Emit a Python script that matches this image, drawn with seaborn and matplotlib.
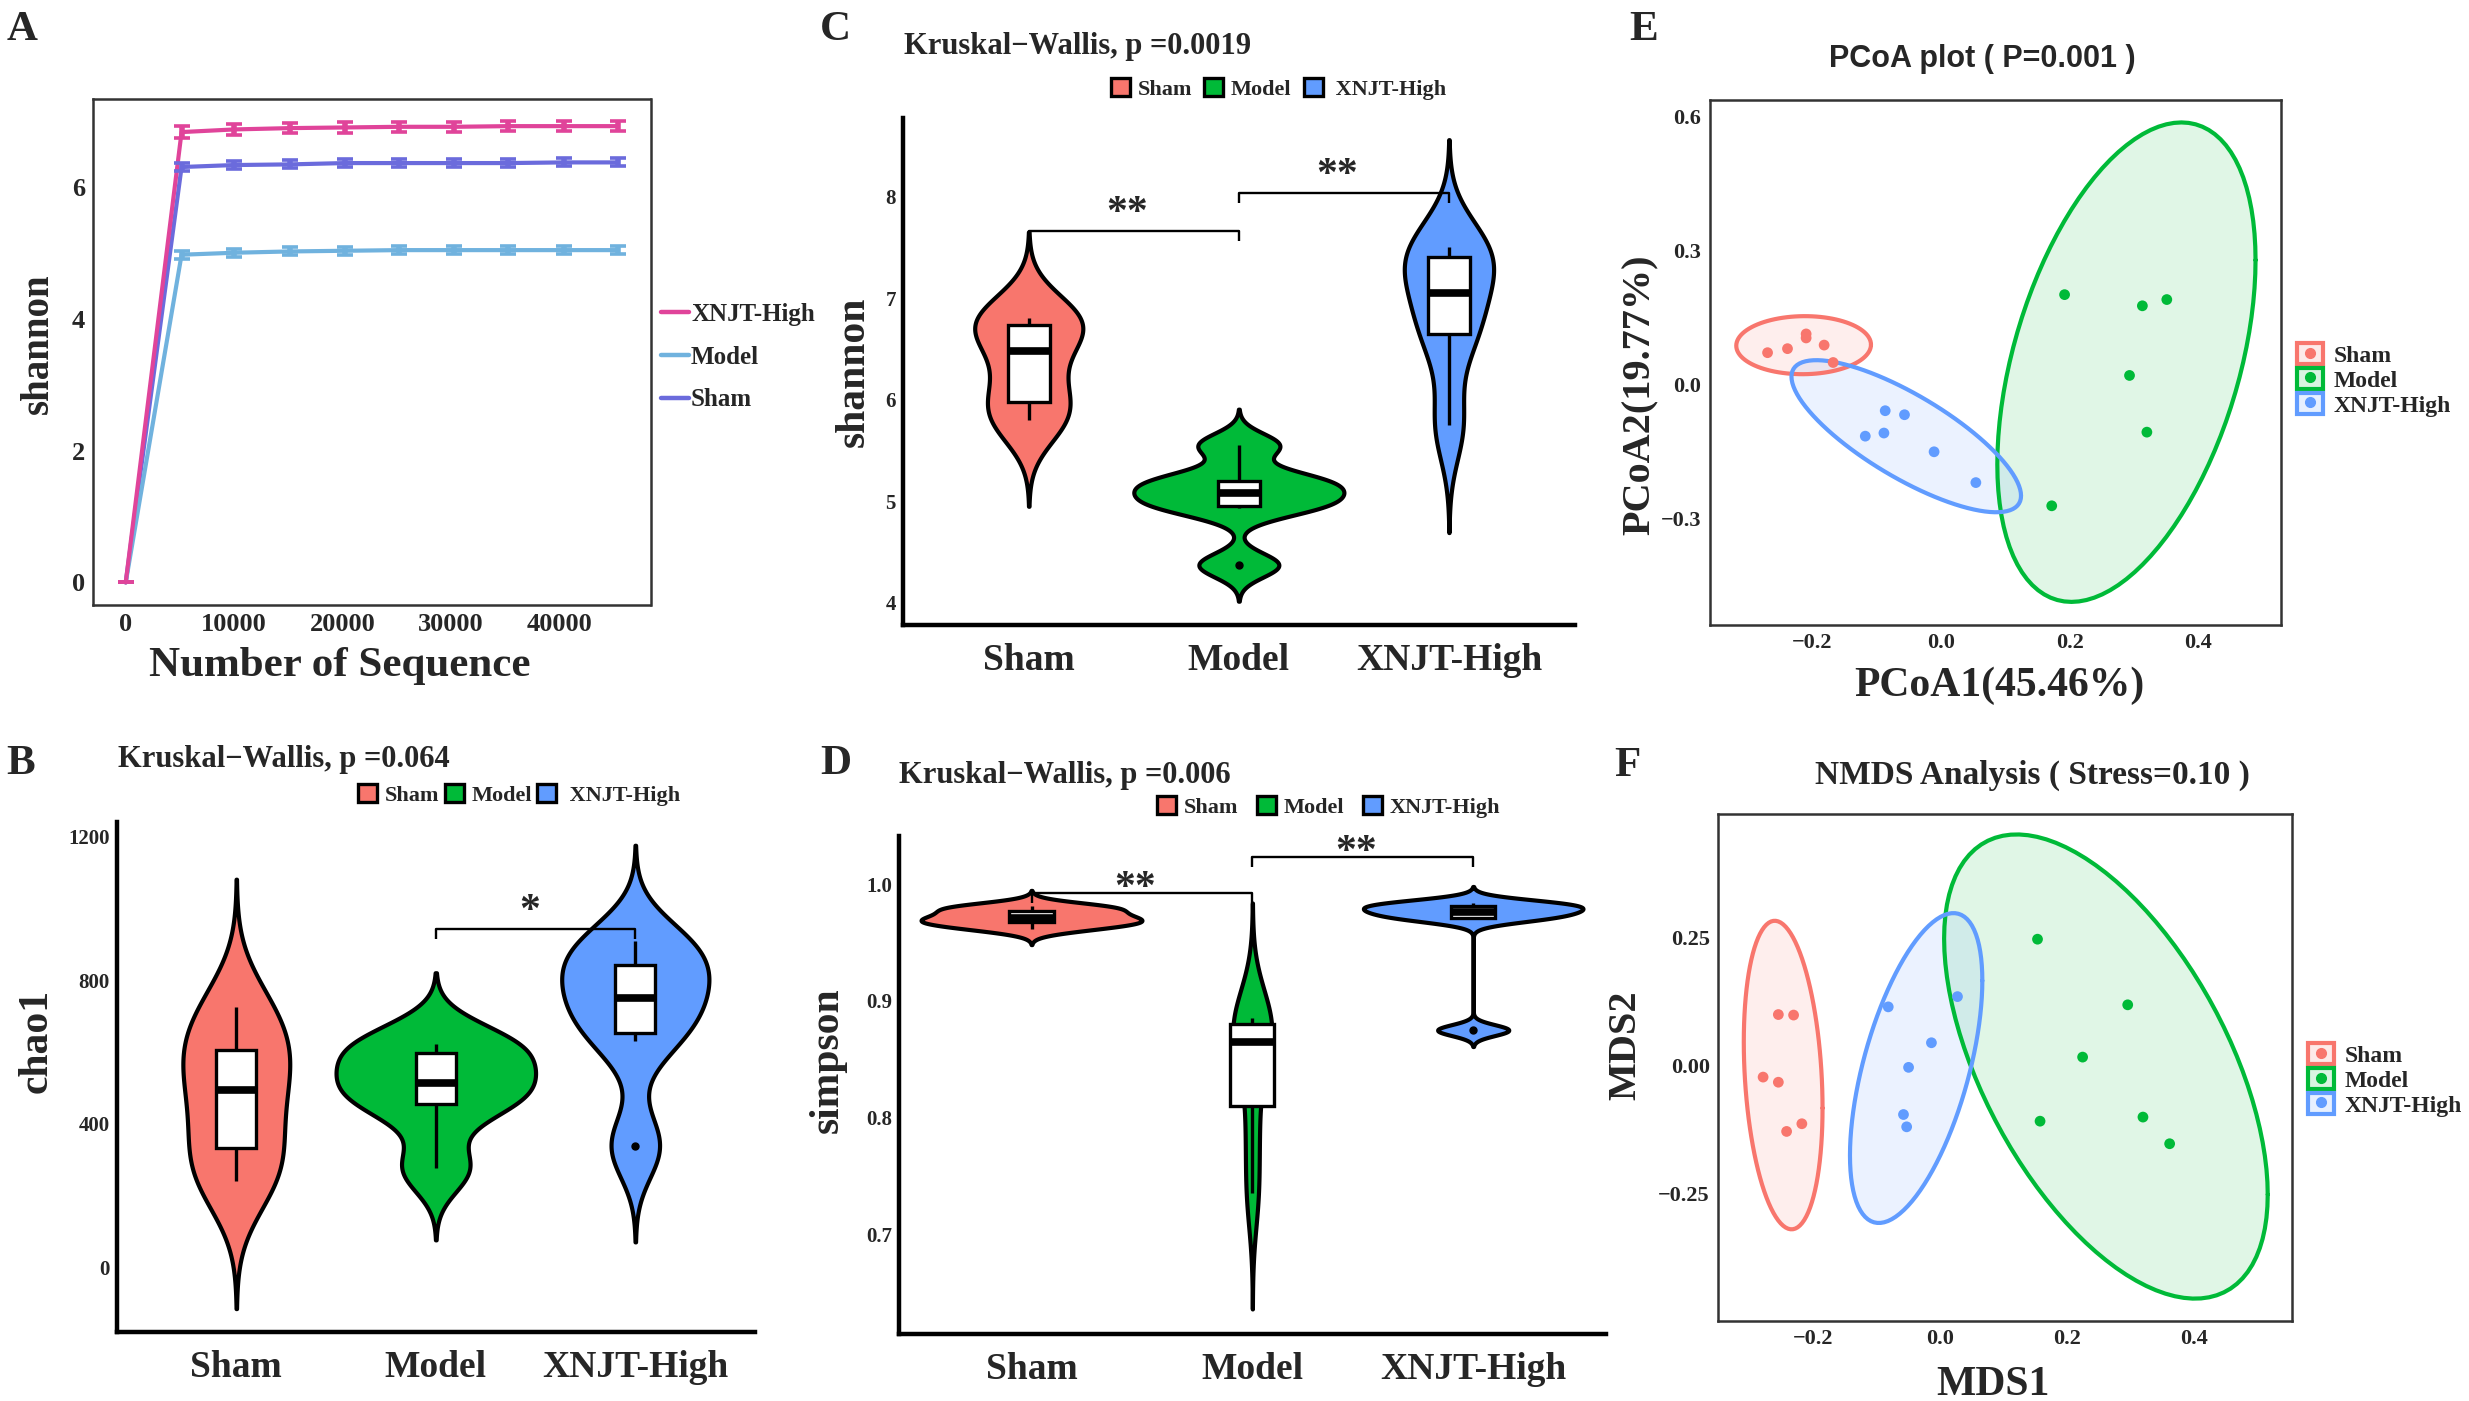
import numpy as np
import pandas as pd
import matplotlib
matplotlib.use("Agg")
import matplotlib.pyplot as plt
import seaborn as sns
from matplotlib.patches import Patch
from matplotlib.lines import Line2D

W, H = 2469, 1401

# =========================
# DATA
# =========================
groups = ["Sham", "Model", "XNJT-High"]
group_colors = ["#F8766D", "#00BA38", "#619CFF"]

# A: rarefaction curves
seq_depth = [0, 5150, 10000, 15150, 20200, 25250, 30300, 35300, 40400, 45400]
rare_groups = ["XNJT-High", "Model", "Sham"]
rare_colors = ["#E0449A", "#70B2DE", "#6B6BDC"]
rare_xnjt = [0, 6.83, 6.87, 6.89, 6.90, 6.91, 6.91, 6.92, 6.92, 6.92]
rare_model = [0, 4.97, 5.00, 5.02, 5.03, 5.04, 5.04, 5.04, 5.04, 5.04]
rare_sham = [0, 6.30, 6.33, 6.34, 6.36, 6.36, 6.36, 6.36, 6.37, 6.37]
rare_xnjt_err = [0, 0.085, 0.08, 0.08, 0.08, 0.08, 0.08, 0.08, 0.08, 0.08]
rare_model_err = [0, 0.06, 0.06, 0.06, 0.06, 0.06, 0.06, 0.06, 0.06, 0.06]
rare_sham_err = [0, 0.06, 0.06, 0.06, 0.06, 0.06, 0.06, 0.06, 0.06, 0.06]

# C: shannon per sample
shannon_sham = [5.80, 5.88, 6.25, 6.71, 6.74, 6.80]
shannon_model = [4.37, 4.93, 5.01, 5.15, 5.22, 5.55]
shannon_xnjt = [5.75, 6.58, 6.85, 7.25, 7.45, 7.50]

# B: chao1 per sample
chao1_sham = [242, 296, 440, 548, 625, 725]
chao1_model = [276, 445, 490, 535, 618, 622]
chao1_xnjt = [339, 632, 716, 782, 863, 908]

# D: simpson per sample
simpson_sham = [0.962, 0.967, 0.969, 0.973, 0.979, 0.981]
simpson_model = [0.735, 0.794, 0.858, 0.872, 0.883, 0.885]
simpson_xnjt = [0.875, 0.970, 0.974, 0.978, 0.982, 0.984]

# significance brackets: (group a, group b, bracket y, label)
shannon_sig = [(0, 1, 7.66, "**"), (1, 2, 8.035, "**")]
chao1_sig = [(1, 2, 943, "*")]
simpson_sig = [(0, 1, 0.9923, "**"), (1, 2, 1.023, "**")]

# E: PCoA
pcoa1_sham = [-0.270, -0.239, -0.210, -0.210, -0.182, -0.168]
pcoa2_sham = [0.071, 0.080, 0.113, 0.104, 0.088, 0.049]
pcoa1_model = [0.192, 0.313, 0.351, 0.293, 0.320, 0.172]
pcoa2_model = [0.201, 0.176, 0.190, 0.020, -0.107, -0.272]
pcoa1_xnjt = [-0.087, -0.057, -0.118, -0.089, -0.011, 0.054]
pcoa2_xnjt = [-0.059, -0.068, -0.116, -0.109, -0.151, -0.220]

# F: NMDS
mds1_sham = [-0.254, -0.230, -0.278, -0.254, -0.241, -0.217]
mds2_sham = [0.100, 0.099, -0.022, -0.032, -0.128, -0.113]
mds1_model = [0.154, 0.296, 0.225, 0.158, 0.320, 0.362]
mds2_model = [0.247, 0.119, 0.017, -0.108, -0.100, -0.152]
mds1_xnjt = [-0.081, 0.028, -0.013, -0.049, -0.057, -0.052]
mds2_xnjt = [0.115, 0.135, 0.045, -0.003, -0.095, -0.119]


def fx(px):
    return px / W


def fy(py):
    return 1 - py / H


def box(l, t, r, b):
    return [fx(l), fy(b), (r - l) / W, (b - t) / H]


def nrd0(kde):
    # R's default bandwidth (bw.nrd0) as a scipy factor
    x = np.asarray(kde.dataset).ravel()
    sd = x.std(ddof=1)
    q75, q25 = np.percentile(x, [75, 25])
    h = 0.9 * min(sd, (q75 - q25) / 1.34) * len(x) ** -0.2
    return h / sd


def cov_trob(x, nu=5, tol=1e-4, maxit=25):
    n, p = x.shape
    loc = x.mean(axis=0)
    w = np.ones(n)
    for _ in range(maxit):
        w0 = w
        X = x - loc
        _, d, vt = np.linalg.svd(np.sqrt(w / w.sum())[:, None] * X, full_matrices=False)
        wX = X @ vt.T @ np.diag(1 / d)
        Q = (wX ** 2).sum(axis=1)
        w = (nu + p) / (nu + Q)
        loc = (w[:, None] * x).sum(axis=0) / w.sum()
        if np.all(np.abs(w - w0) < tol):
            break
    cov = (np.sqrt(w)[:, None] * X).T @ (np.sqrt(w)[:, None] * X) / n
    return loc, cov


def ellipse(pts, level=0.95, segments=100):
    loc, cov = cov_trob(pts)
    dfd = len(pts) - 1
    fq = dfd / 2 * ((1 - level) ** (-2 / dfd) - 1)
    radius = np.sqrt(2 * fq)
    ang = np.linspace(0, 2 * np.pi, segments + 1)
    circle = np.column_stack([np.cos(ang), np.sin(ang)])
    L = np.linalg.cholesky(cov)
    return loc + radius * circle @ L.T


sns.set_theme(style="white")
plt.rcParams["font.family"] = ["Liberation Serif", "DejaVu Serif"]
plt.rcParams["font.weight"] = "bold"
plt.rcParams["axes.labelweight"] = "bold"
plt.rcParams["axes.unicode_minus"] = True

fig = plt.figure(figsize=(W / 100, H / 100), dpi=100)
fig.patch.set_facecolor("white")


# =========================
# VIOLIN PANELS
# =========================
def violin_panel(rect, values, ylim, yticks, ylabel, ylab_xy, sigs, star_dy):
    ax = fig.add_axes(rect)
    df = pd.DataFrame({
        "group": np.repeat(groups, [len(v) for v in values]),
        "value": np.concatenate(values),
    })
    sns.violinplot(
        data=df, x="group", y="value", hue="group",
        order=groups, hue_order=groups, palette=group_colors,
        saturation=1, inner=None, cut=3, gridsize=300,
        bw_method=nrd0, width=1.0, density_norm="area",
        common_norm=True, linewidth=3.0, linecolor="black",
        legend=False, ax=ax
    )
    sns.boxplot(
        data=df, x="group", y="value", order=groups,
        color="white", saturation=1, width=0.2,
        linewidth=2.4, linecolor="black", showcaps=False,
        medianprops={"linewidth": 5.5}, fliersize=5,
        flierprops={"marker": "o", "markerfacecolor": "black",
                    "markeredgecolor": "black"},
        ax=ax
    )
    span = ylim[1] - ylim[0]
    tip = 0.02 * span
    for a, b, yb, lab in sigs:
        ax.plot([a, a, b, b], [yb - tip, yb, yb, yb - tip],
                color="black", lw=1.7, solid_capstyle="butt")
        ax.annotate(lab, xy=((a + b) / 2 - 0.03, yb + star_dy * span),
                    xytext=(0, -15), textcoords="offset points",
                    ha="center", va="baseline", fontsize=30,
                    fontweight="bold")
    ax.set_xlim(-0.6, 2.6)
    ax.set_ylim(*ylim)
    ax.set_yticks(yticks)
    ax.set_xlabel("")
    ax.set_ylabel(ylabel, fontsize=30, fontweight="bold")
    ax.yaxis.set_label_coords(*ylab_xy)
    sns.despine(ax=ax)
    for s in ["left", "bottom"]:
        ax.spines[s].set_linewidth(3.2)
        ax.spines[s].set_color("black")
    ax.tick_params(axis="y", length=3, width=1, color="#333333",
                   labelsize=15, pad=2)
    ax.tick_params(axis="x", length=3, width=1, color="#333333",
                   labelsize=27, pad=10)
    return ax


def group_legend(x, y, colspace, labels):
    handles = [Patch(facecolor=c, edgecolor="black", linewidth=2.4)
               for c in group_colors]
    fig.legend(handles, labels, loc="center left",
               bbox_to_anchor=(fx(x), fy(y)), ncol=3, frameon=False,
               fontsize=16, handlelength=0.85, handleheight=0.85,
               handletextpad=0.35, columnspacing=colspace,
               borderpad=0, borderaxespad=0)


# C shannon
violin_panel(box(902.7, 118.3, 1575, 625),
             [shannon_sham, shannon_model, shannon_xnjt],
             (3.78, 8.77), [4, 5, 6, 7, 8], "shannon", (-0.045, 0.5),
             shannon_sig, 0.055)
group_legend(1111, 89, 0.55, ["Sham", "Model", " XNJT-High"])
fig.text(fx(904), fy(54), "Kruskal\u2212Wallis, p =0.0019",
         fontsize=22, fontweight="bold", va="baseline")

# B chao1
violin_panel(box(116.6, 821.6, 755, 1331.7),
             [chao1_sham, chao1_model, chao1_xnjt],
             (-178, 1241), [0, 400, 800, 1200], "chao1", (-0.095, 0.57),
             chao1_sig, 0.055)
group_legend(358, 795, 0.25, ["Sham", "Model", " XNJT-High"])
fig.text(fx(118), fy(767), "Kruskal\u2212Wallis, p =0.064",
         fontsize=22, fontweight="bold", va="baseline")

# D simpson
violin_panel(box(899, 836.4, 1605.7, 1334),
             [simpson_sham, simpson_model, simpson_xnjt],
             (0.6146, 1.041), [0.7, 0.8, 0.9, 1.0], "simpson", (-0.074, 0.55),
             simpson_sig, 0.03)
group_legend(1157, 807, 0.85, ["Sham", "Model", "XNJT-High"])
fig.text(fx(899), fy(783), "Kruskal\u2212Wallis, p =0.006",
         fontsize=22, fontweight="bold", va="baseline")

# =========================
# A RAREFACTION
# =========================
axA = fig.add_axes(box(93.2, 99.1, 650.5, 604.9))
rare_df = pd.DataFrame({
    "depth": seq_depth * 3,
    "shannon": rare_sham + rare_model + rare_xnjt,
    "group": ["Sham"] * len(seq_depth) + ["Model"] * len(seq_depth)
    + ["XNJT-High"] * len(seq_depth),
})
rare_pal = dict(zip(rare_groups, rare_colors))
sns.lineplot(data=rare_df, x="depth", y="shannon", hue="group",
             hue_order=["Sham", "Model", "XNJT-High"], palette=rare_pal,
             linewidth=3.0, errorbar=None, legend=False, ax=axA)
for grp, yv, ev in [("Sham", rare_sham, rare_sham_err),
                    ("Model", rare_model, rare_model_err),
                    ("XNJT-High", rare_xnjt, rare_xnjt_err)]:
    axA.errorbar(seq_depth, yv, yerr=ev, fmt="none", ecolor=rare_pal[grp],
                 elinewidth=4, capsize=6, capthick=2.6)
axA.set_xlim(-3000, 48400)
axA.set_ylim(-0.34, 7.33)
axA.set_xticks([0, 10000, 20000, 30000, 40000])
axA.set_yticks([0, 2, 4, 6])
axA.set_xlabel("Number of Sequence", fontsize=31, fontweight="bold")
axA.set_ylabel("shannon", fontsize=28, fontweight="bold")
axA.xaxis.set_label_coords(0.443, -0.084)
axA.yaxis.set_label_coords(-0.066, 0.516)
for s in axA.spines.values():
    s.set_color("#333333")
    s.set_linewidth(1.8)
axA.tick_params(length=4, width=1.2, color="#333333", labelsize=19, pad=2)
axA.legend([Line2D([], [], color=c, lw=3.2) for c in rare_colors], rare_groups,
           loc="center left", bbox_to_anchor=(fx(661), fy(357)),
           bbox_transform=fig.transFigure, frameon=False, fontsize=18,
           handlelength=1.1, handletextpad=0.1, labelspacing=0.8,
           borderpad=0, borderaxespad=0)


# =========================
# ORDINATION PANELS
# =========================
def ordination_panel(rect, xs, ys, xlim, ylim, xticks, yticks, ytick_fmt,
                     xlabel, ylabel, xlab_xy, ylab_xy, leg_xy):
    ax = fig.add_axes(rect)
    for x, y, c in zip(xs, ys, group_colors):
        ell = ellipse(np.column_stack([x, y]))
        ax.fill(ell[:, 0], ell[:, 1], color=c, alpha=0.12, lw=0)
        ax.plot(ell[:, 0], ell[:, 1], color=c, lw=3.0)
    df = pd.DataFrame({
        "group": np.repeat(groups, [len(x) for x in xs]),
        "x": np.concatenate(xs),
        "y": np.concatenate(ys),
    })
    sns.scatterplot(data=df, x="x", y="y", hue="group", hue_order=groups,
                    palette=group_colors, s=60, linewidth=0, legend=False,
                    zorder=3, ax=ax)
    ax.set_xlim(*xlim)
    ax.set_ylim(*ylim)
    ax.set_xticks(xticks)
    ax.set_xticklabels([f"{v:.1f}".replace("-", "\u2212") for v in xticks])
    ax.set_yticks(yticks)
    ax.set_yticklabels([ytick_fmt.format(v).replace("-", "\u2212")
                        for v in yticks])
    ax.set_xlabel(xlabel, fontsize=30, fontweight="bold")
    ax.set_ylabel(ylabel, fontsize=29, fontweight="bold")
    ax.xaxis.set_label_coords(*xlab_xy)
    ax.yaxis.set_label_coords(*ylab_xy)
    for s in ax.spines.values():
        s.set_color("#333333")
        s.set_linewidth(1.8)
    ax.tick_params(length=4, width=1.2, color="#333333", labelsize=16, pad=2)
    handles = [(Patch(facecolor=c, alpha=0.15, edgecolor="none"),
                Patch(facecolor="none", edgecolor=c, linewidth=3),
                Line2D([], [], marker="o", ls="", color=c, markersize=7))
               for c in group_colors]
    ax.legend(handles, groups, loc="center left",
              bbox_to_anchor=(fx(leg_xy[0]), fy(leg_xy[1])),
              bbox_transform=fig.transFigure, frameon=False, fontsize=17,
              handlelength=1.1, handleheight=1.0, handletextpad=0.45,
              labelspacing=0.05, borderpad=0, borderaxespad=0)
    return ax


ordination_panel(box(1709.7, 100, 2280.6, 625),
                 [pcoa1_sham, pcoa1_model, pcoa1_xnjt],
                 [pcoa2_sham, pcoa2_model, pcoa2_xnjt],
                 (-0.360, 0.528), (-0.539, 0.637),
                 [-0.2, 0.0, 0.2, 0.4], [-0.3, 0.0, 0.3, 0.6], "{:.1f}",
                 "PCoA1(45.46%)", "PCoA2(19.77%)",
                 (0.508, -0.079), (-0.09, 0.438), (2297, 380))
fig.text(fx(1982), fy(67), "PCoA plot ( P=0.001 )", fontsize=22,
         fontweight="bold", family="Liberation Sans", ha="center",
         va="baseline")

ordination_panel(box(1718, 813.6, 2291.6, 1320.6),
                 [mds1_sham, mds1_model, mds1_xnjt],
                 [mds2_sham, mds2_model, mds2_xnjt],
                 (-0.349, 0.554), (-0.497, 0.492),
                 [-0.2, 0.0, 0.2, 0.4], [-0.25, 0.0, 0.25], "{:.2f}",
                 "MDS1", "MDS2",
                 (0.48, -0.09), (-0.129, 0.544), (2308, 1080))
fig.text(fx(2032), fy(784), "NMDS Analysis ( Stress=0.10 )", fontsize=24,
         fontweight="bold", ha="center", va="baseline")

# panel letters
for lab, x, y in [("A", 6.5, 40), ("C", 820, 40), ("E", 1629, 40),
                  ("B", 6.5, 774), ("D", 820, 774), ("F", 1614, 776)]:
    fig.text(fx(x), fy(y), lab, fontsize=31, fontweight="bold",
             va="baseline")

fig.savefig("out.png", dpi=100, facecolor="white")
